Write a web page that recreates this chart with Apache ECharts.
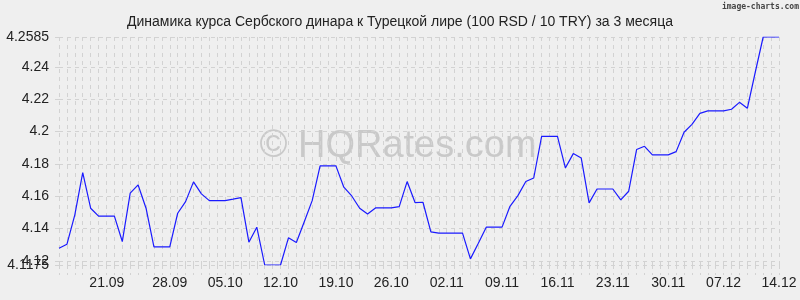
<!DOCTYPE html>
<html><head><meta charset="utf-8">
<script src="https://cdn.jsdelivr.net/npm/echarts@6/dist/echarts.min.js"></script>
<style>html,body{margin:0;padding:0;background:#efefef}#c{width:800px;height:300px}</style>
</head><body><div id="c"></div>
<script>
const titleText = 'Динамика курса Сербского динара к Турецкой лире (100 RSD / 10 TRY) за 3 месяца';
const watermarkText = '© HQRates.com';
const creditText = 'image-charts.com';

const dates = [
 '14.09','15.09','16.09','17.09','18.09','19.09','20.09','21.09','22.09','23.09','24.09','25.09','26.09','27.09','28.09','29.09','30.09',
 '01.10','02.10','03.10','04.10','05.10','06.10','07.10','08.10','09.10','10.10','11.10','12.10','13.10','14.10','15.10','16.10','17.10','18.10','19.10','20.10','21.10','22.10','23.10','24.10','25.10','26.10','27.10','28.10','29.10','30.10','31.10',
 '01.11','02.11','03.11','04.11','05.11','06.11','07.11','08.11','09.11','10.11','11.11','12.11','13.11','14.11','15.11','16.11','17.11','18.11','19.11','20.11','21.11','22.11','23.11','24.11','25.11','26.11','27.11','28.11','29.11','30.11',
 '01.12','02.12','03.12','04.12','05.12','06.12','07.12','08.12','09.12','10.12','11.12','12.12','13.12','14.12'
];

const rates = [
 4.1279, 4.1303, 4.1485, 4.1746, 4.1526, 4.1477, 4.1477, 4.1477, 4.1320, 4.1619,
 4.1670, 4.1526, 4.1287, 4.1287, 4.1287, 4.1495, 4.1567, 4.1689, 4.1615, 4.1573,
 4.1573, 4.1573, 4.1582, 4.1592, 4.1316, 4.1409, 4.1175, 4.1175, 4.1175, 4.1343,
 4.1314, 4.1442, 4.1573, 4.1788, 4.1788, 4.1788, 4.1656, 4.1602, 4.1526, 4.1491,
 4.1528, 4.1528, 4.1528, 4.1536, 4.1691, 4.1561, 4.1563, 4.1380, 4.1372, 4.1372,
 4.1372, 4.1372, 4.1213, 4.1310, 4.1409, 4.1409, 4.1409, 4.1538, 4.1604, 4.1691,
 4.1713, 4.1971, 4.1971, 4.1971, 4.1775, 4.1864, 4.1837, 4.1559, 4.1645, 4.1645,
 4.1645, 4.1578, 4.1631, 4.1889, 4.1909, 4.1856, 4.1856, 4.1856, 4.1876, 4.1996,
 4.2045, 4.2113, 4.2128, 4.2128, 4.2128, 4.2138, 4.2181, 4.2144, 4.2367, 4.2585,
 4.2585, 4.2585
];

const xTickLabels = ['21.09','28.09','05.10','12.10','19.10','26.10','02.11','09.11','16.11','23.11','30.11','07.12','14.12'];
const yTickValues = [4.12, 4.14, 4.16, 4.18, 4.2, 4.22, 4.24, 4.2585];
const yMinLabelValues = [4.1175];

const gridColor = '#d2d2d2';
const dash = [4, 4];
const yMin = Math.min(...rates);
const yMax = Math.max(...rates);
const labelFont = {fontFamily: 'Liberation Sans', fontSize: 14, color: '#222'};

const chart = echarts.init(document.getElementById('c'), null, {renderer: 'canvas'});
chart.setOption({
  backgroundColor: '#efefef',
  animation: false,
  title: {
    text: titleText, left: 'center', top: 10,
    textStyle: {fontFamily: 'Liberation Sans', fontSize: 14, fontWeight: 'normal', color: '#222'}
  },
  graphic: [
    {type: 'text', x: 398, y: 147, z: 0, silent: true,
     style: {text: watermarkText, fill: '#c9c9c9', font: '38px "Liberation Sans"', textAlign: 'center', textVerticalAlign: 'middle'}},
    {type: 'text', x: 799, y: 7, z: 10, silent: true,
     style: {text: creditText, fill: '#444', font: 'bold 8px "DejaVu Sans Mono"', textAlign: 'right', textVerticalAlign: 'middle'}}
  ],
  grid: {left: 59, right: 21, top: 37, bottom: 35, containLabel: false},
  xAxis: {
    type: 'category', data: dates, boundaryGap: false,
    axisLine: {show: false},
    axisTick: {show: true, interval: 0, length: 10, lineStyle: {color: gridColor, type: dash}},
    splitLine: {show: true, interval: 0, lineStyle: {color: gridColor, type: dash}},
    axisLabel: Object.assign({
      interval: (i, v) => xTickLabels.includes(v),
      margin: 11,
      formatter: v => v === xTickLabels[0] ? '{s|' + v + '}' : v,
      rich: {s: Object.assign({padding: [0, 15, 0, 0]}, labelFont)}
    }, labelFont)
  },
  yAxis: [{
    type: 'value', min: yMin, max: yMax, position: 'left',
    axisLine: {show: false},
    axisTick: {show: true, length: 8, customValues: yTickValues, lineStyle: {color: gridColor, type: dash}},
    splitLine: {show: true, lineStyle: {color: gridColor, type: dash}},
    axisLabel: Object.assign({
      customValues: yTickValues, margin: 10, showMinLabel: true, showMaxLabel: true, hideOverlap: false,
      formatter: v => String(v)
    }, labelFont)
  }, {
    type: 'value', min: yMin, max: yMax, position: 'left', offset: 0,
    axisLine: {show: false},
    axisTick: {show: true, length: 8, customValues: yMinLabelValues, lineStyle: {color: gridColor, type: dash}},
    splitLine: {show: true, lineStyle: {color: gridColor, type: dash}},
    axisLabel: Object.assign({
      customValues: yMinLabelValues, margin: 10, showMinLabel: true, hideOverlap: false,
      formatter: v => String(v)
    }, labelFont)
  }],
  series: [{
    type: 'line', data: rates, symbol: 'none', z: 5, yAxisIndex: 0,
    lineStyle: {color: '#1a1aff', width: 1.2}
  }]
});
</script>
</body></html>
